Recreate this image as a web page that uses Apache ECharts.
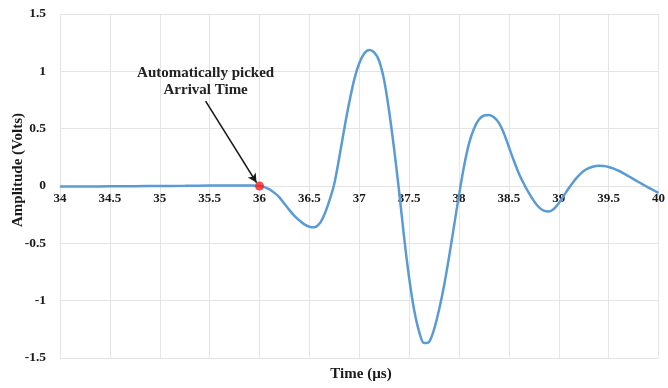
<!DOCTYPE html>
<html>
<head>
<meta charset="utf-8">
<script src="https://cdn.jsdelivr.net/npm/echarts@6/dist/echarts.min.js"></script>
<style>
  html, body { margin: 0; padding: 0; background: #ffffff; }
  #chart { width: 668px; height: 388px; }
</style>
</head>
<body>
<div id="chart"></div>
<script>
// Recorded waveform: time (µs) and amplitude (V)
const timeUs = [
  34.0, 34.25, 34.5, 34.75, 35.0, 35.25, 35.5, 35.75, 35.8, 35.85, 35.9, 35.95,
  36.0, 36.05, 36.1, 36.15, 36.2, 36.25, 36.3, 36.35, 36.4, 36.45, 36.5, 36.55,
  36.6, 36.65, 36.7, 36.75, 36.8, 36.85, 36.9, 36.95, 37.0, 37.05, 37.1, 37.15,
  37.2, 37.25, 37.3, 37.35, 37.4, 37.45, 37.5, 37.55, 37.6, 37.65, 37.7, 37.75,
  37.8, 37.85, 37.9, 37.95, 38.0, 38.05, 38.1, 38.15, 38.2, 38.25, 38.3, 38.35,
  38.4, 38.45, 38.5, 38.55, 38.6, 38.65, 38.7, 38.75, 38.8, 38.85, 38.9, 38.95,
  39.0, 39.05, 39.1, 39.15, 39.2, 39.25, 39.3, 39.35, 39.4, 39.45, 39.5, 39.55,
  39.6, 39.65, 39.7, 39.75, 39.8, 39.85, 39.9, 39.95, 40.0
];
const amplitudeV = [
  -0.005, -0.004, -0.003, -0.002, 0.0, 0.002, 0.004, 0.005, 0.005, 0.005, 0.005, 0.003,
  0.0, -0.01, -0.03, -0.06, -0.1, -0.155, -0.21, -0.26, -0.3, -0.335, -0.355, -0.36,
  -0.33, -0.25, -0.13, 0.02, 0.25, 0.5, 0.73, 0.93, 1.07, 1.155, 1.185, 1.165,
  1.09, 0.92, 0.65, 0.32, -0.05, -0.45, -0.8, -1.08, -1.27, -1.37, -1.36, -1.25,
  -1.08, -0.87, -0.62, -0.35, -0.08, 0.17, 0.37, 0.5, 0.58, 0.615, 0.62, 0.6,
  0.55, 0.46, 0.34, 0.22, 0.11, 0.02, -0.06, -0.13, -0.185, -0.215, -0.222, -0.2,
  -0.15, -0.085, -0.02, 0.04, 0.09, 0.13, 0.155, 0.17, 0.176, 0.174, 0.166, 0.152,
  0.133, 0.11, 0.085, 0.06, 0.035, 0.01, -0.014, -0.037, -0.06
];

// Picked arrival point
const arrivalTime = [36.0];
const arrivalAmp = [0.0];

// Annotation text anchor and arrow (data coordinates)
const noteText = ['Automatically picked', 'Arrival Time'];
const noteAnchor = [35.46, 0.91];
const arrowStart = [35.46, 0.74];
const arrowEnd = [35.97, 0.03];

const xTicks = { min: 34, max: 40, step: 0.5 };
const yTicks = { min: -1.5, max: 1.5, step: 0.5 };

const serif = '"Liberation Serif", "Times New Roman", serif';
const gridColor = '#e4e4e4';
const textColor = '#1a1a1a';

const W = 668, H = 388;
const gridBox = { left: 60, right: 6, top: 14, bottom: 30 };
// lift the time axis so it runs along amplitude = 0
const plotH = H - gridBox.top - gridBox.bottom;
const zeroOffset = -plotH * (0 - yTicks.min) / (yTicks.max - yTicks.min);

const chart = echarts.init(document.getElementById('chart'));
chart.setOption({
  animation: false,
  backgroundColor: '#ffffff',
  grid: Object.assign({ containLabel: false }, gridBox),
  xAxis: {
    type: 'value',
    min: xTicks.min, max: xTicks.max, interval: xTicks.step,
    offset: zeroOffset,
    axisLine: { show: true, onZero: false, lineStyle: { color: gridColor, width: 1 } },
    axisTick: { show: false },
    axisLabel: {
      margin: 6, fontFamily: serif, fontWeight: 'bold', fontSize: 13, color: textColor,
      showMinLabel: true, showMaxLabel: true
    },
    splitLine: { show: true, lineStyle: { color: gridColor, width: 1 } }
  },
  yAxis: {
    type: 'value',
    min: yTicks.min, max: yTicks.max, interval: yTicks.step,
    axisLine: { show: false },
    axisTick: { show: false },
    axisLabel: { margin: 14, fontFamily: serif, fontWeight: 'bold', fontSize: 13.5, color: textColor },
    splitLine: { show: true, lineStyle: { color: gridColor, width: 1 } }
  },
  series: [
    {
      type: 'line',
      data: timeUs.map((t, i) => [t, amplitudeV[i]]),
      smooth: 0.3,
      showSymbol: false,
      lineStyle: { color: '#5b9bd5', width: 2.5 },
      z: 2,
      markLine: {
        silent: true,
        symbol: ['none', 'arrow'],
        symbolSize: [7, 9],
        label: { show: false },
        lineStyle: { color: '#1a1a1a', width: 1.6, type: 'solid' },
        data: [[{ coord: arrowStart }, { coord: arrowEnd }]]
      },
      markPoint: {
        silent: true,
        symbol: 'circle',
        symbolSize: 0,
        data: [{
          coord: noteAnchor,
          label: {
            show: true,
            position: 'inside',
            formatter: noteText.join('\n'),
            fontFamily: serif, fontWeight: 'bold', fontSize: 15, lineHeight: 17,
            color: '#222222', align: 'center'
          }
        }]
      }
    },
    {
      type: 'scatter',
      data: arrivalTime.map((t, i) => [t, arrivalAmp[i]]),
      symbol: 'circle',
      symbolSize: 9,
      itemStyle: { color: '#ff1a1a' },
      z: 3
    }
  ],
  graphic: [
    {
      type: 'text',
      x: 18, y: 170,
      rotation: Math.PI / 2,
      style: {
        text: 'Amplitude (Volts)',
        x: 0, y: 0,
        align: 'center', verticalAlign: 'middle',
        font: 'bold 15px ' + serif,
        fill: textColor
      }
    },
    {
      type: 'text',
      x: 361, y: 374,
      style: {
        text: 'Time (µs)',
        x: 0, y: 0,
        align: 'center', verticalAlign: 'middle',
        font: 'bold 15px ' + serif,
        fill: textColor
      }
    }
  ]
});
</script>
</body>
</html>
